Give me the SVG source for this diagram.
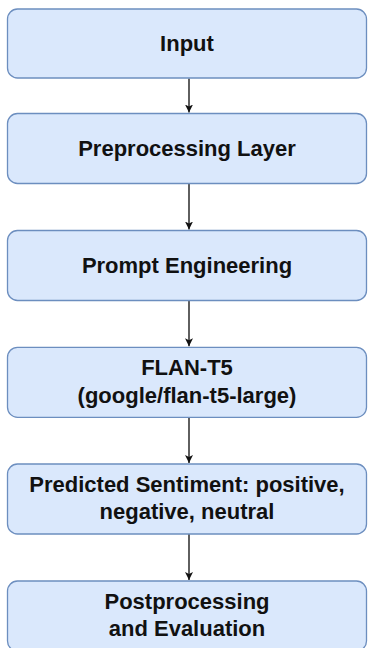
<svg xmlns="http://www.w3.org/2000/svg" width="368" height="648" viewBox="0 0 368 648">
  <style>
    .box { fill: #dae8fc; stroke: #6c8ebf; stroke-width: 1.3; }
    .lbl { font-family: "Liberation Sans", Arial, sans-serif; font-weight: bold; font-size: 22px; fill: #111; text-anchor: middle; }
    .edge { stroke: #444; stroke-width: 1.7; fill: none; marker-end: url(#head); }
  </style>
  <defs>
    <marker id="head" viewBox="0 0 10 10" refX="10" refY="5" markerWidth="8" markerHeight="8" markerUnits="userSpaceOnUse" orient="auto">
      <path d="M0,0 L10,5 L0,10 L2.5,5 Z" fill="#111"/>
    </marker>
  </defs>
  <rect width="368" height="648" fill="#ffffff"/>

  <g id="connectors">
    <path class="edge" d="M189,78.5 L189,112.5"/>
    <path class="edge" d="M189,183.5 L189,229.5"/>
    <path class="edge" d="M189,300.5 L189,346.3"/>
    <path class="edge" d="M189,417.3 L189,463"/>
    <path class="edge" d="M189,534 L189,580"/>
  </g>

  <g id="input">
    <rect class="box" x="7.5" y="9" width="359" height="69" rx="10" ry="10"/>
    <text class="lbl" x="187" y="51">Input</text>
  </g>

  <g id="preprocessing">
    <rect class="box" x="7.5" y="113.5" width="359" height="70" rx="10" ry="10"/>
    <text class="lbl" x="187" y="156">Preprocessing Layer</text>
  </g>

  <g id="prompt">
    <rect class="box" x="7.5" y="230.5" width="359" height="70" rx="10" ry="10"/>
    <text class="lbl" x="187" y="273">Prompt Engineering</text>
  </g>

  <g id="model">
    <rect class="box" x="7.5" y="347.3" width="359" height="70" rx="10" ry="10"/>
    <text class="lbl" x="187" y="375">FLAN-T5</text>
    <text class="lbl" x="187" y="402.5">(google/flan-t5-large)</text>
  </g>

  <g id="prediction">
    <rect class="box" x="7.5" y="464" width="359" height="70" rx="10" ry="10"/>
    <text class="lbl" x="187" y="491.5">Predicted Sentiment: positive,</text>
    <text class="lbl" x="187" y="518.5">negative, neutral</text>
  </g>

  <g id="postprocessing">
    <rect class="box" x="7.5" y="581" width="359" height="70" rx="10" ry="10"/>
    <text class="lbl" x="187" y="608.5">Postprocessing</text>
    <text class="lbl" x="187" y="636">and Evaluation</text>
  </g>
</svg>
